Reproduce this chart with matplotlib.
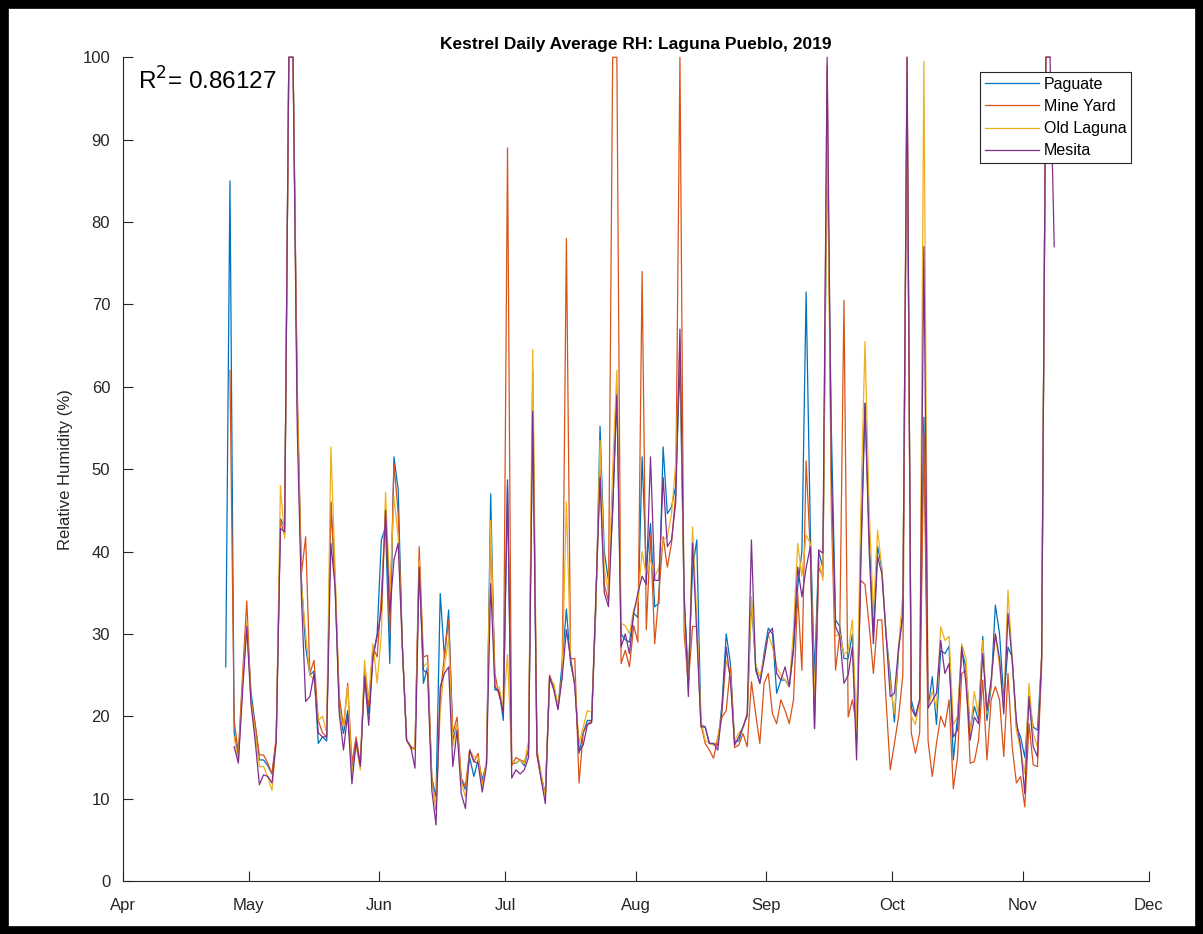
import numpy as np
import pandas as pd
import matplotlib
matplotlib.use("Agg")
import matplotlib.pyplot as plt
import matplotlib.dates as mdates
from matplotlib.patches import Rectangle

# daily average RH (%)
paguate_start = "2019-04-25"
paguate = [26, 85, 18, 15, 24, 31, 23, 19, 14.7, 14.7, 14, 13, 17, 44, 43, 100, 100, 58, 36.5, 28.4,
           25, 25.5, 16.7, 17.5, 17, 46, 36, 21, 17.9, 20.7, 13.5, 17, 14, 25.2, 20.3, 27.2, 30, 41.4, 43, 26.4,
           51.5, 47.5, 28.4, 17.1, 16.3, 16, 39, 24, 26, 12.5, 10.2, 34.9, 27.2, 32.9, 17.1, 19, 12.3, 11.1, 15, 12.7,
           14.7, 12.3, 14.3, 47, 23.2, 23.2, 19.5, 48, 14.3, 14.3, 14.7, 14, 16, 58, 15.8, 12.7, 10.6, 24.5, 23.6, 21,
           26.5, 33, 26.4, 24, 15.5, 18, 19.5, 19.5, 33, 55.2, 40, 36.5, 45, 60, 30, 29.3, 29, 32.5, 32, 51.5,
           38, 43.4, 33.3, 33.7, 52.7, 44.6, 45.4, 48, 63, 34, 25, 38, 41.4, 19, 18.7, 16.7, 16.7, 16.5, 21.5, 30,
           26.4, 16.9, 17, 18.7, 20, 34.1, 26, 24, 27.6, 30.7, 30, 22.8, 24.4, 24.4, 23.6, 28, 35.7, 40, 71.5, 42.6,
           25, 40, 38, 90, 55, 31.7, 30.9, 27, 27, 30, 17, 40, 58, 42, 30, 40.6, 38, 30, 25, 19.3,
           28, 33, 97, 22, 20, 22, 56.3, 21, 24.8, 19, 28, 27.6, 28.5, 14.7, 19.9, 28, 26, 18.3, 21.2, 19.5,
           29.7, 19.5, 23.6, 33.5, 30, 22, 28.4, 27.2, 18.7, 17.5, 15, 22, 18.7, 18.3, 27, 100, 100]

mine_start = "2019-04-26"
mine_yard = [62, 19.5, 15.5, 25, 34, 22, 19, 15.3, 15.3, 14.3, 13, 17.5, 43.8, 42, 100, 100, 60, 37.3, 41.8,
             25.2, 26.8, 19.5, 18, 17.5, 46, 36.5, 22.4, 18.7, 24, 14.3, 17.5, 14.2, 25.6, 21.2, 28.4, 27.2, 34.5, 45, 30,
             50.7, 44.6, 28.4, 17.1, 16.3, 16, 40.6, 27.2, 27.4, 12.5, 8.6, 22.4, 27.5, 31.7, 17.9, 19.9, 12.5, 11.5, 15.9, 14.5,
             15.5, 11.7, 14.3, 43, 25.2, 22.5, 21, 89, 14, 15, 14.7, 14.5, 16, 62, 15.2, 12.5, 10.5, 25, 23.6, 21,
             25, 78, 27, 27, 11.9, 18, 19, 19.5, 34, 50, 36, 34, 100, 100, 26.4, 28, 26, 31, 29, 74,
             30.5, 42, 28.8, 35, 41.8, 38.1, 41, 47, 100, 30, 24, 30.9, 30.9, 19, 16.7, 15.9, 14.9, 17.5, 19.9, 20.7,
             26, 16.2, 16.5, 17.9, 16.3, 24.2, 20.3, 16.7, 24, 25.2, 20.3, 19.1, 22, 20.7, 19.1, 22, 34.9, 25.6, 51, 40,
             18.5, 38, 37, 99, 45, 25.6, 30, 70.5, 19.9, 22, 19, 36.5, 36, 31, 25.2, 31.7, 31.7, 22, 13.5, 16.7,
             20, 25, 100, 18, 15.5, 18, 54.3, 17, 12.7, 16.7, 20, 18.7, 22, 11.2, 15, 25.2, 25.6, 14.3, 14.5, 17.1,
             24.4, 14.7, 22, 23.6, 22, 15.1, 25.2, 16.3, 11.9, 12.7, 9, 19.1, 14.1, 13.9, 26, 100, 100]

old_start = "2019-04-27"
old_laguna = [17.5, 14.5, 24, 31.5, 22, 18, 13.9, 13.9, 12.6, 11, 17, 48, 41.6, 100, 100, 58, 36, 30,
              25, 24.4, 19.5, 20, 18, 52.7, 38, 20.7, 18.7, 23.6, 13, 16.5, 13.5, 26.8, 22, 28.8, 24, 30, 47.2, 35,
              46.6, 41.8, 28.4, 17.1, 16, 16, 39, 26, 26.5, 12, 9, 20.6, 26, 29.5, 16.3, 19, 12, 10.2, 15.9, 15.1,
              15, 11.5, 14.5, 43.8, 23.6, 23.5, 21, 27.5, 14.5, 14.3, 14.7, 14.2, 17, 64.5, 16, 13, 10.2, 24.5, 24, 21.3,
              25, 46, 27, 24, 16.7, 18.7, 20.7, 20.5, 33, 53.5, 38, 35, 50, 62, 31.3, 31, 30, 33, 34, 40,
              37, 39, 37, 38, 41.4, 41.8, 44.6, 50.7, 66, 33, 23, 43, 32, 19.5, 17.1, 16.7, 16.5, 17.1, 20.7, 26.8,
              25, 17, 18, 18.5, 20.3, 34.5, 26.4, 24.8, 27, 30, 28.4, 26, 25, 24.4, 23.6, 30.5, 41, 37, 42, 41,
              22, 39, 36.5, 92, 48, 29.7, 30, 27.5, 28, 31.7, 18, 45, 65.5, 45, 32.5, 42.6, 38, 30, 24, 20.3,
              28.4, 35, 98, 20, 19, 22, 99.5, 21, 23, 21, 30.9, 29.2, 29.7, 19, 20, 28.8, 27, 18, 23, 20,
              29.2, 20.3, 24, 30, 26, 21, 35.3, 27, 18.3, 15.9, 13, 24, 17.9, 16.3, 27.6, 100, 100]

mesita_start = "2019-04-27"
mesita = [16.3, 14.3, 23, 30.9, 21.5, 17, 11.7, 12.9, 12.7, 11.9, 17, 42.8, 42.4, 100, 100, 55, 34.5, 21.8,
          22.4, 25.2, 18, 17.5, 17.5, 41, 35.7, 20.3, 15.9, 20.3, 11.8, 16.9, 13.9, 24.8, 18.9, 27.2, 29.7, 32.9, 45, 32.5,
          39, 41, 28.4, 17.1, 16.3, 13.7, 38.1, 25.6, 25.2, 11, 6.8, 23.6, 25.2, 26, 13.9, 18.3, 10.6, 8.8, 15.9, 14.5,
          14.3, 10.8, 14, 36.1, 23.6, 22.8, 20.3, 48.7, 12.5, 13.5, 13, 13.5, 15, 57, 15.5, 12.3, 9.4, 24.8, 23.2, 20.8,
          24.8, 30.5, 27, 23.6, 15.7, 16.5, 19, 19.2, 34.5, 49, 35, 33.3, 45, 59, 28.4, 30, 27.6, 32.5, 35, 37,
          36, 51.5, 36.5, 36.5, 49, 40.6, 41.4, 46, 67, 35, 22.4, 41, 30, 18.7, 18.7, 16.7, 16.7, 15.9, 20.7, 28.4,
          24.4, 16.5, 17.5, 18.7, 20.3, 41.4, 25.6, 24, 26.8, 30, 30.7, 25.2, 24.4, 26, 23.6, 28.4, 38.1, 34.5, 38, 40.6,
          18.5, 40.2, 39.8, 100, 50, 30.9, 29.7, 24, 25, 28.4, 14.7, 38, 58, 40, 28.8, 39.4, 37.3, 30, 22.4, 22.8,
          28.4, 32, 100, 21, 20, 22, 77, 21, 21.9, 22.8, 29.2, 25.2, 26.4, 17.5, 18.3, 28.4, 24, 17.1, 19.9, 19.1,
          27.6, 20.7, 24.4, 30, 27, 20.3, 32.5, 26.8, 19.5, 16.3, 10.6, 22.4, 16.3, 15.1, 27.2, 100, 100, 77]

series = [("Paguate", paguate_start, paguate, "#0072BD"),
          ("Mine Yard", mine_start, mine_yard, "#D95319"),
          ("Old Laguna", old_start, old_laguna, "#EDB120"),
          ("Mesita", mesita_start, mesita, "#7E2F8E")]

r2_text = "R$^2$= 0.86127"

plt.rcParams['font.family'] = ['Liberation Sans', 'DejaVu Sans']
axcol = "#262626"

fig = plt.figure(figsize=(12.03, 9.34), dpi=100)
ax = fig.add_axes([0.102, 0.0567, 0.853, 0.882])

for name, start, vals, col in series:
    t = pd.date_range(start + " 12:00", periods=len(vals), freq="D")
    ax.plot(t, vals, color=col, linewidth=0.9, label=name, clip_on=False)

ax.set_xlim(pd.Timestamp("2019-04-01"), pd.Timestamp("2019-12-01"))
ax.set_ylim(0, 100)
ax.set_yticks(np.arange(0, 101, 10))
ax.xaxis.set_major_locator(mdates.MonthLocator())
ax.xaxis.set_major_formatter(mdates.DateFormatter("%b"))

for s in ["top", "right"]:
    ax.spines[s].set_visible(False)
for s in ["left", "bottom"]:
    ax.spines[s].set_color(axcol)
    ax.spines[s].set_linewidth(0.8)
ax.tick_params(direction="in", length=7, width=0.8, colors=axcol, labelsize=12)
ax.tick_params(axis="x", pad=12)
ax.tick_params(axis="y", pad=9)

ax.set_ylabel("Relative Humidity (%)", fontsize=12, color=axcol, labelpad=7)
ax.set_title("Kestrel Daily Average RH: Laguna Pueblo, 2019", fontsize=12.5,
             fontweight="bold", color="black", pad=6)
ax.text(0.015, 0.988, r2_text, transform=ax.transAxes, fontsize=17.5, va="top", ha="left")

leg = ax.legend(loc="upper right", bbox_to_anchor=(1139 / 1203, 1 - 64 / 934),
                bbox_transform=fig.transFigure, fontsize=11.5, handlelength=3.4,
                handletextpad=0.3, borderpad=0.3, labelspacing=0.45,
                fancybox=False, framealpha=1)
leg.get_frame().set_edgecolor(axcol)
leg.get_frame().set_linewidth(0.8)

# black frame round the whole figure
fig.patches.append(Rectangle((0, 0), 1, 1, transform=fig.transFigure, fill=False,
                             edgecolor="black", linewidth=12, zorder=10))

fig.savefig("out.png", dpi=100)
